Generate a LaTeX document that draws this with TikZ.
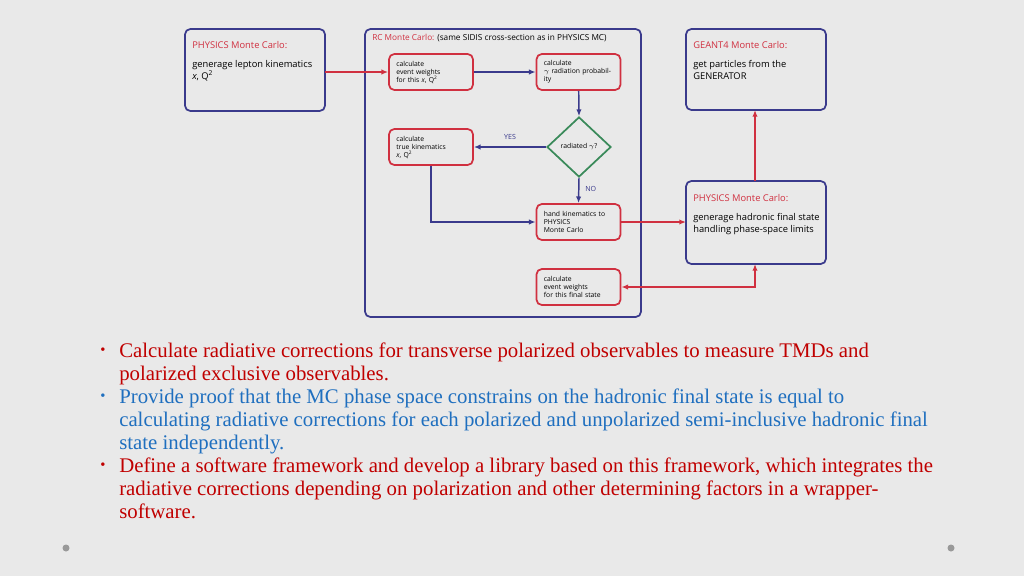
\documentclass[tikz,border=0pt]{standalone}
\usepackage{fontspec}
\setmainfont{Liberation Serif}
\newfontfamily\dg{Open Sans}
\usetikzlibrary{shapes.geometric,arrows.meta}
\definecolor{bg}{HTML}{E9E9E9}
\definecolor{nv}{HTML}{3A3A8C}
\definecolor{rd}{HTML}{D03040}
\definecolor{gr}{HTML}{3A8A5A}
\definecolor{tr}{HTML}{C00000}
\definecolor{tb}{HTML}{1F6FBF}
\tikzset{
 big/.style={draw=nv,line width=1.3pt,rounded corners=4pt,fill=none},
 sm/.style={draw=rd,line width=1.3pt,rounded corners=4pt,minimum width=63pt,minimum height=27pt,align=left,text width=52pt,font=\dg\fontsize{5.1}{6}\selectfont,inner sep=2pt},
 rl/.style={rd,line width=1.1pt,-{Latex[length=5pt,width=4pt]}},
 bl/.style={nv,line width=1.1pt,-{Latex[length=5pt,width=4pt]}},
 lbl/.style={font=\dg\fontsize{5.3}{6}\selectfont},
 bul/.style={anchor=north west,align=left,font=\fontsize{15.6}{17.25}\selectfont,inner sep=0pt},
 dot/.style={anchor=center,font=\fontsize{11}{11}\selectfont,inner sep=0pt},
 bigtxt/.style={anchor=north west,align=left,inner sep=0pt,font=\dg\fontsize{7}{8.6}\selectfont}
}
\begin{document}
\begin{tikzpicture}[x=0.75pt,y=-0.75pt]
\fill[bg] (0,0) rectangle (1024,576);
\useasboundingbox (0,0) rectangle (1024,576);
% big boxes
\draw[big] (185,29) rectangle (325,111);
\node[bigtxt] (pl) at (192,41) {\textcolor{rd}{PHYSICS Monte Carlo:}\\[6pt] generage lepton kinematics\\ \textit{x}, Q\textsuperscript{2}};
\coordinate (plr) at (325,72);
\draw[big] (365,29) rectangle (641,317);
\node[anchor=north west,inner sep=0pt,font=\dg\fontsize{6.2}{7}\selectfont] (rc) at (372,34) {\textcolor{rd}{RC Monte Carlo:} (same SIDIS cross-section as in PHYSICS MC)};
\draw[big] (686,29) rectangle (826,110);
\node[bigtxt] (g4) at (693,41) {\textcolor{rd}{GEANT4 Monte Carlo:}\\[6pt] get particles from the\\ GENERATOR};
\coordinate (g4b) at (755,110);
\draw[big] (686,181) rectangle (826,264);
\node[bigtxt] (pr) at (693,194) {\textcolor{rd}{PHYSICS Monte Carlo:}\\[6pt] generage hadronic final state\\ handling phase-space limits};
\coordinate (prt) at (755,181);
\coordinate (prb) at (755,264);
\coordinate (prl) at (686,222);
% small boxes
\node[sm] (ew) at (431,72) {calculate\\event weights\\for this \textit{x}, Q\textsuperscript{2}};
\node[sm] (gp) at (578.5,72) {calculate\\$\gamma$ radiation probability};
\node[diamond,draw=gr,line width=1.3pt,minimum width=48pt,minimum height=45pt,inner sep=0pt,font=\dg\fontsize{5.1}{6}\selectfont] (dm) at (579,147) {radiated $\gamma$?};
\node[sm] (tk) at (431,147) {calculate\\true kinematics\\\textit{x}, Q\textsuperscript{2}};
\node[sm] (hk) at (578.5,222) {hand kinematics to\\PHYSICS\\Monte Carlo};
\node[sm] (fs) at (578.5,287) {calculate\\event weights\\for this final state};
% arrows
\draw[rl] (plr) -- (ew.west);
\draw[bl] (ew) -- (gp);
\draw[bl] (gp) -- (dm.north);
\draw[bl] (dm.west) -- node[lbl,above,yshift=2pt]{YES} (tk.east);
\draw[bl] (dm.south) -- node[lbl,right,xshift=1pt,yshift=1pt]{NO} (hk.north);
\draw[bl] (tk.south) |- (hk.west);
\draw[rl] (hk.east) -- (prl);
\draw[rl] (prt) -- (g4b);
\draw[rl,{Latex[length=5pt,width=4pt]}-{Latex[length=5pt,width=4pt]}] (fs.east) -| (prb);
% bullets
\node[dot,text=tr] (b1d) at (103,351) {•};
\node[bul,text=tr] (b1) at (119,343) {Calculate radiative corrections for transverse polarized observables to measure TMDs and\\polarized exclusive observables.};
\node[dot,text=tb] (b2d) at (103,397) {•};
\node[bul,text=tb] (b2) at (119,389) {Provide proof that the MC phase space constrains on the hadronic final state is equal to\\calculating radiative corrections for each polarized and unpolarized semi-inclusive hadronic final\\state independently.};
\node[dot,text=tr] (b3d) at (103,466) {•};
\node[bul,text=tr] (b3) at (119,458) {Define a software framework and develop a library based on this framework, which integrates the\\radiative corrections depending on polarization and other determining factors in a wrapper-\\software.};
\fill[gray!80] (66,548) circle (3.5);
\fill[gray!80] (951,548) circle (3.5);
\end{tikzpicture}
\end{document}
